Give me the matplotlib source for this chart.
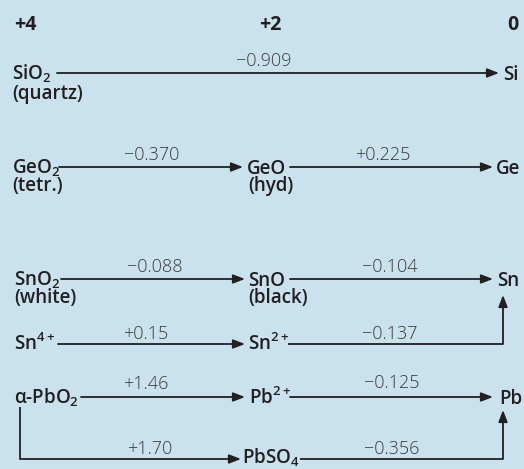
import matplotlib.pyplot as plt

# Latimer-type diagram for group 14 (E / V)
ox_labels = ['+4', '+2', '0']

si_species = ['SiO$_\\mathregular{2}$', 'Si']
si_forms = ['(quartz)']
si_E = ['\u22120.909']

ge_species = ['GeO$_\\mathregular{2}$', 'GeO', 'Ge']
ge_forms = ['(tetr.)', '(hyd)']
ge_E = ['\u22120.370', '+0.225']

sn_species = ['SnO$_\\mathregular{2}$', 'SnO', 'Sn']
sn_forms = ['(white)', '(black)']
sn_E = ['\u22120.088', '\u22120.104']

snion_species = ['Sn$^\\mathregular{4+}$', 'Sn$^\\mathregular{2+}$']
snion_E = ['+0.15', '\u22120.137']

pb_species = ['\u03b1-PbO$_\\mathregular{2}$', 'Pb$^\\mathregular{2+}$', 'Pb']
pb_E = ['+1.46', '\u22120.125']

pbso4_species = ['PbSO$_\\mathregular{4}$']
pbso4_E = ['+1.70', '\u22120.356']

bg = '#cae2ee'
ink = '#231f20'
num_col = '#3a3a3a'
fam = ['Open Sans', 'DejaVu Sans']
fs = 13.5

fig = plt.figure(figsize=(5.24, 4.69), dpi=100)
fig.patch.set_facecolor(bg)
ax = fig.add_axes([0, 0, 1, 1])
ax.set_facecolor(bg)
ax.set_xlim(0, 524)
ax.set_ylim(469, 0)
ax.axis('off')


def sp(x, y, s, ha='left'):
    ax.text(x, y, s, ha=ha, va='baseline', fontsize=fs, fontweight='semibold',
            family=fam, color=ink)


def num(x, y, s):
    ax.text(x, y, s, ha='center', va='baseline', fontsize=13, fontweight='light',
            family=fam, color=num_col)


def arrow(x0, y0, x1, y1):
    ax.annotate('', xy=(x1, y1), xytext=(x0, y0),
                arrowprops=dict(arrowstyle='-|>,head_length=0.7,head_width=0.27',
                                mutation_scale=10, lw=1.3, color=ink,
                                shrinkA=0, shrinkB=0))


def line(xs, ys):
    ax.plot(xs, ys, color=ink, lw=1.3, solid_capstyle='butt')


# oxidation states
for x, s, ha in zip([14, 270, 518], ox_labels, ['left', 'center', 'right']):
    ax.text(x, 30, s, ha=ha, va='baseline',
            fontsize=14, fontweight='bold', family=fam, color=ink)

# Si
sp(12, 80, si_species[0])
sp(12, 99, si_forms[0])
arrow(57, 73, 499, 73)
num(264, 66, si_E[0])
sp(503, 80, si_species[1])

# Ge
sp(12, 174, ge_species[0])
sp(12, 191, ge_forms[0])
arrow(59, 167, 243, 167)
num(152, 160, ge_E[0])
sp(247, 174, ge_species[1])
sp(248, 191, ge_forms[1])
arrow(290, 167, 493, 167)
num(383, 160, ge_E[1])
sp(496, 174, ge_species[2])

# Sn oxides
sp(14, 286, sn_species[0])
sp(14, 303, sn_forms[0])
arrow(61, 279, 245, 279)
num(155, 272, sn_E[0])
sp(248, 286, sn_species[1])
sp(248, 303, sn_forms[1])
arrow(290, 279, 493, 279)
num(390, 272, sn_E[1])
sp(497, 286, sn_species[2])

# Sn ions
sp(14, 350, snion_species[0])
arrow(58, 344, 245, 344)
num(146, 339, snion_E[0])
sp(248, 350, snion_species[1])
line([288, 503], [344, 344])
arrow(503, 344, 503, 295)
num(390, 339, snion_E[1])

# Pb
sp(14, 404, pb_species[0])
arrow(81, 397, 245, 397)
num(146, 389, pb_E[0])
sp(249, 404, pb_species[1])
arrow(290, 397, 493, 397)
num(392, 388, pb_E[1])
sp(499, 404, pb_species[2])

# PbSO4 branch
line([20, 20], [407, 459])
arrow(20, 459, 241, 459)
num(150, 454, pbso4_E[0])
sp(242, 464, pbso4_species[0])
line([300, 503], [459, 459])
arrow(503, 459, 503, 410)
num(392, 454, pbso4_E[1])

fig.savefig('out.png', dpi=100, facecolor=bg)
